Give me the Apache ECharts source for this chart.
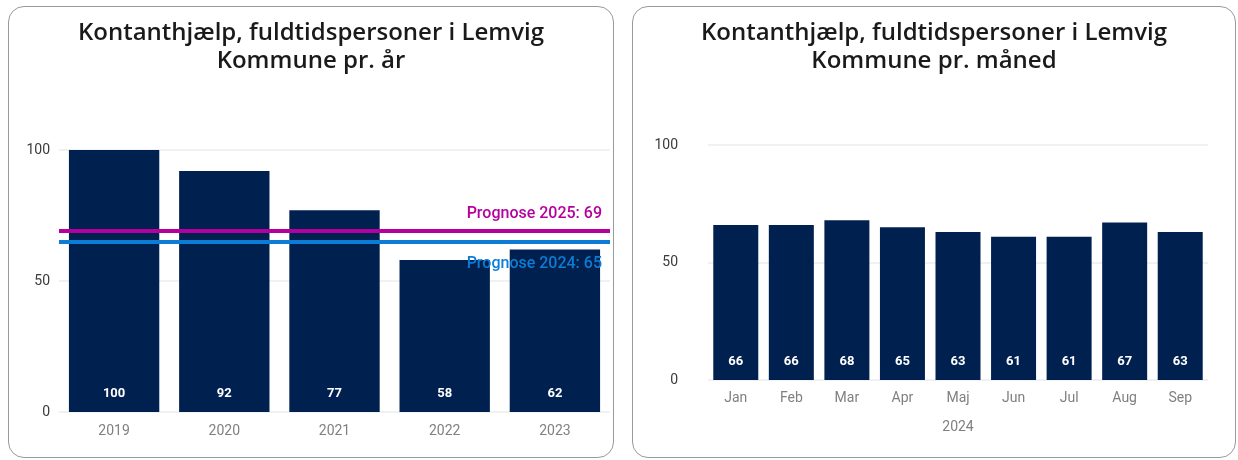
<!DOCTYPE html>
<html>
<head>
<meta charset="utf-8">
<script src="https://cdn.jsdelivr.net/npm/echarts@6/dist/echarts.min.js"></script>
<style>
  body { margin: 0; background: #fff; width: 1238px; height: 460px; overflow: hidden; }
  .panel {
    position: absolute;
    box-sizing: border-box;
    border: 1.5px solid #9a9a9a;
    border-radius: 16px;
    background: #fff;
  }
  #yearly { left: 8px; top: 6px; width: 606px; height: 452px; }
  #monthly { left: 632px; top: 6px; width: 604px; height: 452px; }
</style>
</head>
<body>
<div id="yearly" class="panel"></div>
<div id="monthly" class="panel"></div>
<script>
  // data
  const years = ['2019', '2020', '2021', '2022', '2023']
  const yearValues = [100, 92, 77, 58, 62]
  const prognoseValues = [69, 65]
  const prognoseNames = ['Prognose 2025', 'Prognose 2024']
  const prognoseColors = ['#b4009e', '#0c7cd5']
  const months = ['Jan', 'Feb', 'Mar', 'Apr', 'Maj', 'Jun', 'Jul', 'Aug', 'Sep']
  const monthValues = [66, 66, 68, 65, 63, 61, 61, 67, 63]
  const monthYear = '2024'

  const navy = '#002050'
  const font = 'Roboto, "DejaVu Sans", sans-serif'

  function titleOf(text) {
    return {
      text: text,
      left: 'center',
      top: 7,
      textStyle: {
        color: '#1a1a1a',
        fontFamily: '"Open Sans", Roboto, sans-serif',
        fontWeight: 600,
        fontSize: 24,
        lineHeight: 28
      }
    }
  }

  function valueAxis(margin) {
    return {
      type: 'value',
      min: 0,
      max: 100,
      interval: 50,
      axisLabel: { color: '#3a3a3a', fontSize: 14, fontFamily: font, margin: margin },
      splitLine: { lineStyle: { color: '#ececec', width: 1.5 } },
      axisLine: { show: false },
      axisTick: { show: false }
    }
  }

  function barLabel() {
    return {
      show: true,
      position: 'insideBottom',
      distance: 12,
      color: '#fff',
      fontWeight: 'bold',
      fontSize: 13,
      fontFamily: font
    }
  }

  const yearly = echarts.init(document.getElementById('yearly'))
  yearly.setOption({
    animation: false,
    title: titleOf('Kontanthjælp, fuldtidspersoner i Lemvig\nKommune pr. år'),
    grid: { left: 50, right: 3, top: 143, bottom: 45 },
    xAxis: {
      type: 'category',
      data: years,
      axisLabel: { color: '#808080', fontSize: 14, fontFamily: font, margin: 12 },
      axisLine: { show: false },
      axisTick: { show: false }
    },
    yAxis: valueAxis(9),
    series: [{
      type: 'bar',
      data: yearValues,
      barWidth: '82%',
      itemStyle: { color: navy },
      label: barLabel(),
      markLine: {
        silent: true,
        symbol: 'none',
        data: prognoseValues.map((v, i) => ({
          yAxis: v,
          lineStyle: { color: prognoseColors[i], width: 4, type: 'solid' },
          label: {
            show: true,
            position: i === 0 ? 'insideEndTop' : 'insideEndBottom',
            formatter: prognoseNames[i] + ': ' + v,
            color: prognoseColors[i],
            fontSize: 16,
            fontWeight: 500,
            fontFamily: font,
            distance: [8, 9],
            padding: i === 0 ? 0 : [5, 0, 0, 0]
          }
        }))
      }
    }]
  })

  const monthly = echarts.init(document.getElementById('monthly'))
  monthly.setOption({
    animation: false,
    title: titleOf('Kontanthjælp, fuldtidspersoner i Lemvig\nKommune pr. måned'),
    grid: { left: 75, right: 27, top: 138, bottom: 77 },
    xAxis: {
      type: 'category',
      data: months,
      name: monthYear,
      nameLocation: 'middle',
      nameGap: 40,
      nameTextStyle: { color: '#808080', fontSize: 14, fontFamily: font },
      axisLabel: { color: '#808080', fontSize: 14, fontFamily: font, margin: 11 },
      axisLine: { show: false },
      axisTick: { show: false }
    },
    yAxis: valueAxis(30),
    series: [{
      type: 'bar',
      data: monthValues,
      barWidth: '81%',
      itemStyle: { color: navy },
      label: barLabel()
    }]
  })
</script>
</body>
</html>
